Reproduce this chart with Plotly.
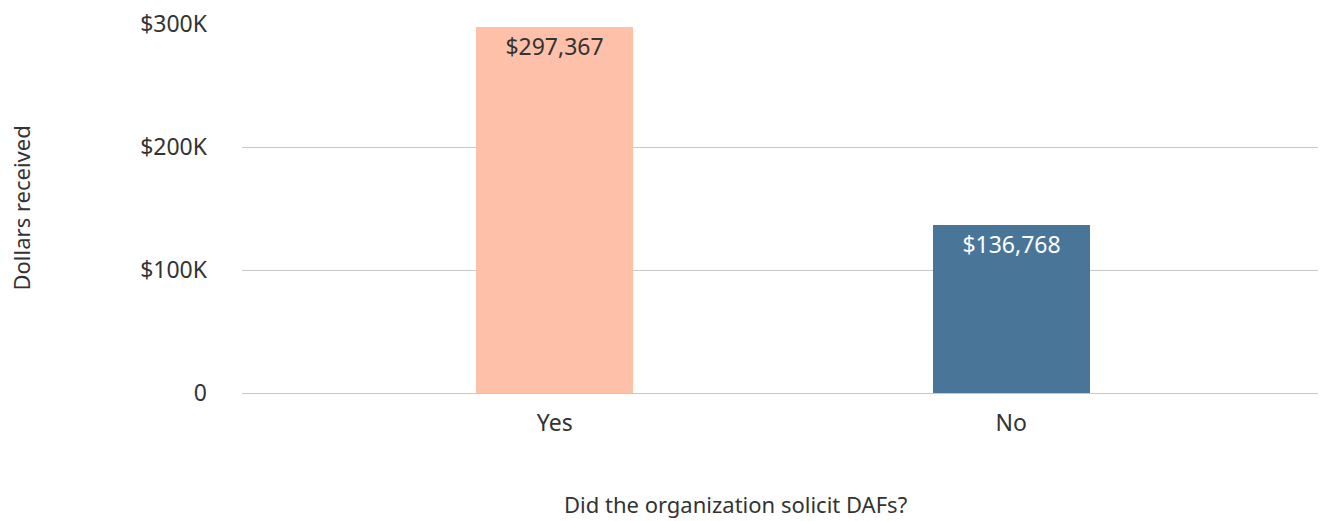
import plotly.graph_objects as go

# Survey answers and the dollars received for each group
categories = ["Yes", "No"]
dollars = [297367, 136768]
bar_colors = ["#FFC0A9", "#497698"]
label_colors = ["#333333", "#FFFFFF"]

y_tickvals = [0, 100000, 200000, 300000]
y_ticktext = ["0", "$100K", "$200K", "$300K"]

FONT = "Noto Sans"

fig = go.Figure(
    go.Bar(
        x=categories,
        y=dollars,
        width=0.344,
        marker=dict(color=bar_colors, line=dict(width=0)),
        text=[f"${v:,.0f}" for v in dollars],
        textposition="inside",
        insidetextanchor="end",
        textangle=0,
        textfont=dict(family=FONT, size=23, color=label_colors),
        hoverinfo="skip",
    )
)

fig.update_layout(
    width=1338,
    height=521,
    margin=dict(l=242, r=20, t=24, b=128),
    paper_bgcolor="white",
    plot_bgcolor="white",
    font=dict(family=FONT, size=23, color="#333333"),
    showlegend=False,
    bargap=0,
    xaxis=dict(
        range=[-0.685, 1.672],
        automargin=False,
        showgrid=False,
        showline=False,
        zeroline=False,
        ticks="",
        ticklabelstandoff=14,
        tickfont=dict(family=FONT, size=23, color="#333333"),
    ),
    yaxis=dict(
        range=[0, 300000],
        automargin=False,
        tickvals=y_tickvals,
        ticktext=y_ticktext,
        showgrid=True,
        gridcolor="#C8C8C8",
        gridwidth=1,
        zeroline=True,
        zerolinecolor="#C8C8C8",
        zerolinewidth=1,
        showline=False,
        ticks="",
        ticklabelstandoff=34,
        tickfont=dict(family=FONT, size=23, color="#333333"),
    ),
    annotations=[
        dict(
            text="Did the organization solicit DAFs?",
            xref="paper", yref="paper",
            x=(735 - 242) / 1076, y=-(504 - 393) / 369,
            xanchor="center", yanchor="middle",
            showarrow=False,
            font=dict(family=FONT, size=22, color="#333333"),
        ),
        dict(
            text="Dollars received",
            xref="paper", yref="paper",
            x=-(242 - 20) / 1076, y=0.5,
            xanchor="center", yanchor="middle",
            textangle=-90,
            showarrow=False,
            font=dict(family=FONT, size=22, color="#333333"),
        ),
    ],
)

fig.write_html("out.html")
